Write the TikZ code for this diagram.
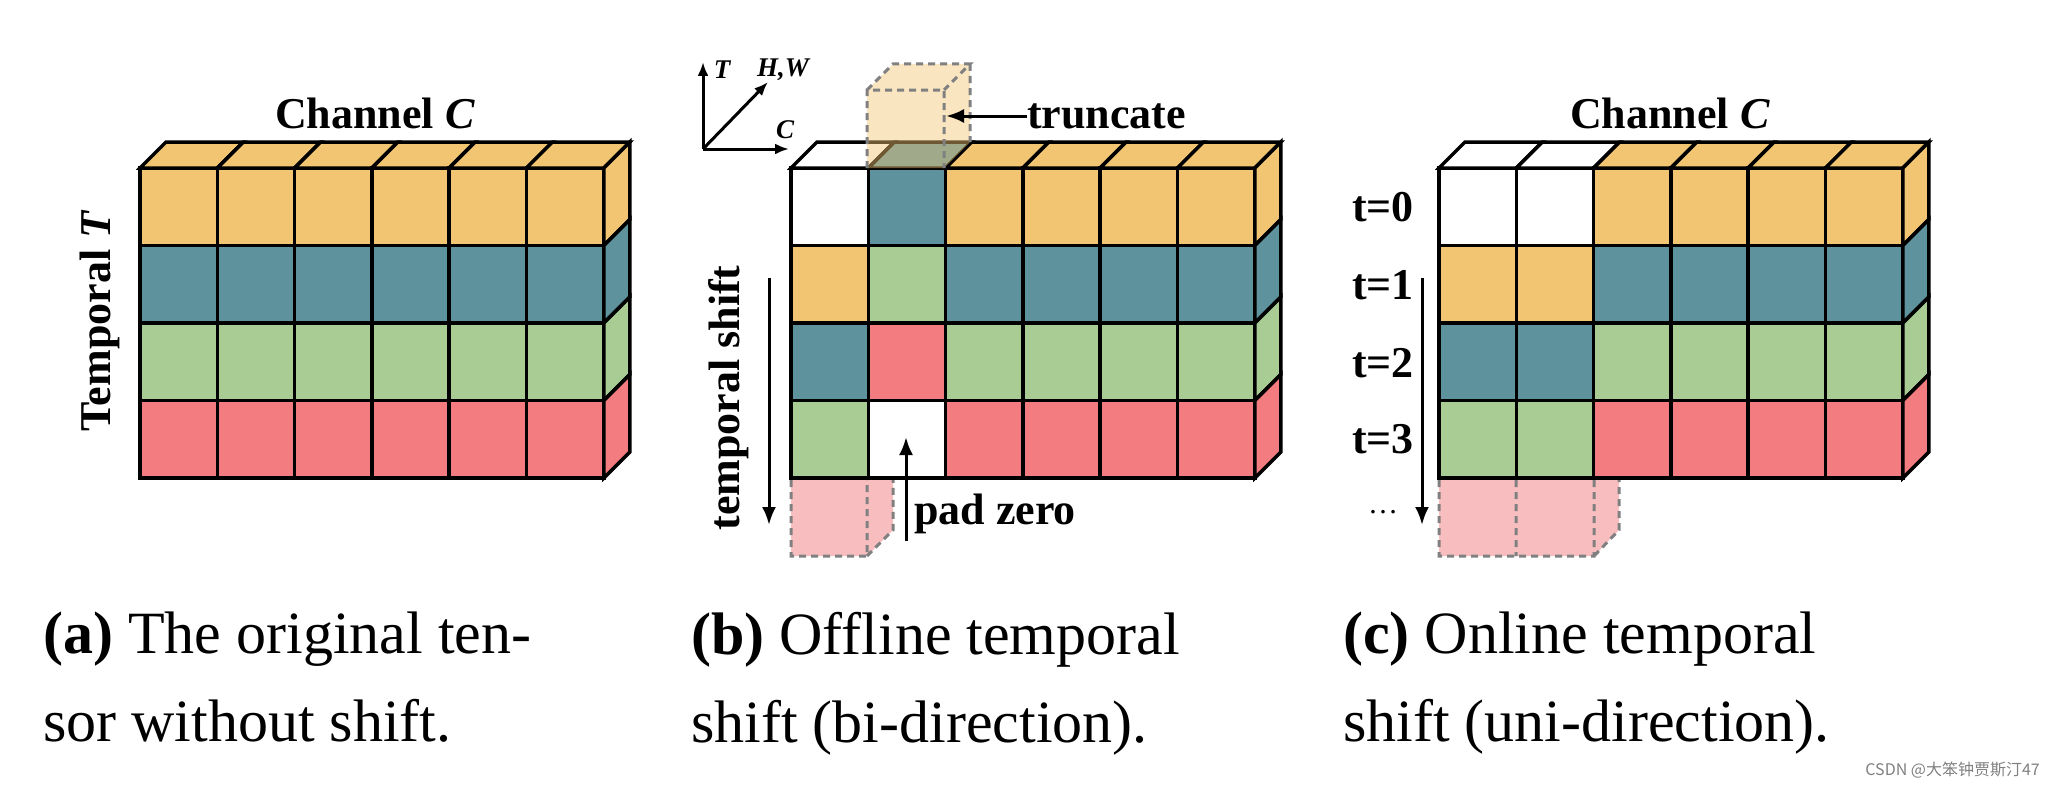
\documentclass[tikz,border=0pt]{standalone}
\usepackage{fontspec}
\usetikzlibrary{arrows.meta}
\setmainfont{Liberation Serif}
\newfontfamily\cjk{Noto Sans CJK SC}
\begin{document}
\definecolor{cO}{HTML}{F2C572}
\definecolor{cT}{HTML}{5E929C}
\definecolor{cG}{HTML}{A8CC94}
\definecolor{cR}{HTML}{F27C80}
\definecolor{cW}{HTML}{FFFFFF}
\begin{tikzpicture}[x=1pt,y=-1pt,
  cell/.style={draw=black,line width=3.5pt,line join=miter},
  ghost/.style={draw=gray,line width=3pt,dash pattern=on 7pt off 5pt},
  lbl/.style={font=\bfseries\fontsize{44}{44}\selectfont,inner sep=0pt},
  ax/.style={-{Latex[length=14pt,width=11pt]},line width=3pt},
  arr/.style={-{Latex[length=18pt,width=14pt]},line width=3pt},
  captxt/.style={font=\fontsize{60}{88}\selectfont,align=left,anchor=north west,inner sep=0pt}]
\useasboundingbox (0,0) rectangle (2045,792);
\newcommand\blk[3]{\filldraw[cell,fill=#3] (#1,#2) rectangle ++(77.3,77.5);}
\newcommand\tpf[3]{\filldraw[cell,fill=#3] (#1,#2) -- ++(26,-26) -- ++(77.3,0) -- ++(-26,26) -- cycle;}
\newcommand\sdf[3]{\filldraw[cell,fill=#3] (#1,#2) -- ++(26,-26) -- ++(0,77.5) -- ++(-26,26) -- cycle;}
\newcommand\slab[3]{%
  \foreach \cols [count=\c from 0] in {#2}{
    \foreach \col [count=\r from 0] in \cols{
      \pgfmathsetmacro\xx{#1+77.3*\c}\pgfmathsetmacro\yy{168+77.5*\r}
      \blk{\xx}{\yy}{\col}
      \ifnum\r=0 \tpf{\xx}{168}{\col}\fi
    }}
  \foreach \col [count=\r from 0] in {#3}{
    \pgfmathsetmacro\yy{168+77.5*\r}
    \sdf{#1+463.8}{\yy}{\col}}
}
% panel a
\slab{140}{{cO,cT,cG,cR},{cO,cT,cG,cR},{cO,cT,cG,cR},{cO,cT,cG,cR},{cO,cT,cG,cR},{cO,cT,cG,cR}}{cO,cT,cG,cR}
\node[lbl] (cha) at (375,113) {Channel \textit{C}};
\node[lbl,rotate=90] (tem) at (100,321) {Temporal \textit{T}};
% panel b
\slab{791}{{cW,cO,cT,cG},{cT,cG,cR,cW},{cO,cT,cG,cR},{cO,cT,cG,cR},{cO,cT,cG,cR},{cO,cT,cG,cR}}{cO,cT,cG,cR}
\fill[cO,opacity=0.45] (867,90) rectangle (944,168) (867,90) -- (893,64) -- (970,64) -- (944,90) -- cycle
  (944,90) -- (970,64) -- (970,142) -- (944,168) -- cycle;
\draw[ghost] (867,168) -- (867,90) -- (944,90) -- (944,168) (867,90) -- (893,64) -- (970,64) -- (944,90) (970,64) -- (970,142);
\fill[cR,opacity=0.5] (791,480) rectangle (867,556) (867,480) -- (893,480) -- (893,530) -- (867,556) -- cycle;
\draw[ghost] (791,480) -- (791,556) -- (867,556) -- (867,480) (867,556) -- (893,530) -- (893,480);
\coordinate (o) at (703,149);
\draw[ax] (o) -- (703,62);
\draw[ax] (o) -- (789,149);
\draw[ax] (o) -- (768,82);
\node[font=\bfseries\itshape\fontsize{27}{27}\selectfont,inner sep=0pt] (lT) at (722,70) {T};
\node[font=\bfseries\itshape\fontsize{27}{27}\selectfont,inner sep=0pt] (lHW) at (783,70) {H,W};
\node[font=\bfseries\itshape\fontsize{27}{27}\selectfont,inner sep=0pt] (lC) at (785,130) {C};
\node[lbl,anchor=west] (tr) at (1027,116) {truncate};
\draw[arr] (tr.west) -- (946,116);
\node[lbl,anchor=west] (pz) at (914,514) {pad zero};
\coordinate (pzs) at (906,541);
\draw[arr] (pzs) -- (906,437);
\node[lbl,rotate=90] (ts) at (729,398) {temporal shift};
\coordinate (tsa) at (769,278);
\draw[arr] (tsa) -- (769,525);
% panel c
\slab{1439}{{cW,cO,cT,cG},{cW,cO,cT,cG},{cO,cT,cG,cR},{cO,cT,cG,cR},{cO,cT,cG,cR},{cO,cT,cG,cR}}{cO,cT,cG,cR}
\fill[cR,opacity=0.5] (1439,480) rectangle (1594,556) (1594,480) -- (1619,480) -- (1619,530) -- (1594,556) -- cycle;
\draw[ghost] (1439,480) -- (1439,556) -- (1594,556) -- (1594,480) (1516,480) -- (1516,556) (1594,556) -- (1619,530) -- (1619,480);
\node[lbl] (chc) at (1670,113) {Channel \textit{C}};
\node[lbl] (t0) at (1383,207) {t=0};
\node[lbl] (t1) at (1383,285) {t=1};
\node[lbl] (t2) at (1383,363) {t=2};
\node[lbl] (t3) at (1383,439) {t=3};
\node[font=\fontsize{30}{30}\selectfont] (dots) at (1383,512) {\dots};
\coordinate (ca) at (1422,278);
\draw[arr] (ca) -- (1422,525);
% captions
\node[captxt] (capa) at (43,612) {\textbf{(a)} The original ten-\\sor without shift.};
\node[captxt] (capb) at (691,612) {\textbf{(b)} Offline temporal\\shift (bi-direction).};
\node[captxt] (capc) at (1343,612) {\textbf{(c)} Online temporal\\shift (uni-direction).};
\node[font=\cjk\fontsize{16}{16}\selectfont,text=gray,anchor=east,inner sep=0pt] (wm) at (2040,770) {CSDN @大笨钟贾斯汀47};
\end{tikzpicture}
\end{document}
